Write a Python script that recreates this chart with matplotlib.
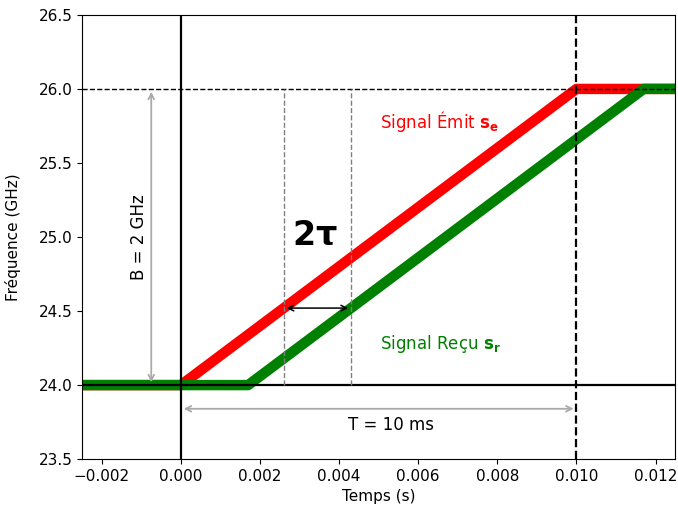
import numpy as np
import matplotlib.pyplot as plt

# chirp parameters
f0 = 24.0      # GHz
B = 2.0        # GHz
T = 0.010      # s
delay = 0.0017 # s
t_mark = 0.0026

t_emit = [-0.0025, 0.0, T, 0.0125]
f_emit = [f0, f0, f0 + B, f0 + B]
t_recu = [-0.0025, delay, T + delay, 0.0125]
f_recu = [f0, f0, f0 + B, f0 + B]

fig = plt.figure(figsize=(6.78, 5.13), dpi=100)
ax = fig.add_axes([0.121, 0.105, 0.875, 0.866])

ax.plot(t_emit, f_emit, color='red', lw=7.5, solid_capstyle='butt')
ax.plot(t_recu, f_recu, color='green', lw=7.5, solid_capstyle='butt')

ax.axhline(f0, color='black', lw=1.6)
ax.axvline(0, color='black', lw=1.6)
ax.axvline(T, color='black', lw=1.6, ls='--')
ax.axhline(f0 + B, color='black', lw=1, ls='--')

# marqueurs du retard
ax.vlines([t_mark, t_mark + delay], f0, f0 + B, colors='gray', lw=1, ls='--')
f_mark = f0 + B * t_mark / T
ax.annotate('', xy=(t_mark, f_mark), xytext=(t_mark + delay, f_mark),
            arrowprops=dict(arrowstyle='<->', color='black', lw=1.1))
ax.text(0.00282, 25.01, r'$\mathbf{2\tau}$', fontsize=24, va='center', ha='left')

# bande B
ax.annotate('', xy=(-0.00075, f0), xytext=(-0.00075, f0 + B),
            arrowprops=dict(arrowstyle='<->', color='#aaaaaa', lw=1.3))
ax.text(-0.00105, 25.0, 'B = 2 GHz', rotation=90, va='center', ha='center', fontsize=12)

# durée T
ax.annotate('', xy=(0.0, 23.84), xytext=(T, 23.84),
            arrowprops=dict(arrowstyle='<->', color='#aaaaaa', lw=1.3))
ax.text(0.0053, 23.73, 'T = 10 ms', va='center', ha='center', fontsize=12)

ax.text(0.00503, 25.78, r'Signal Émit $\mathbf{s_e}$', color='red', fontsize=12, va='center')
ax.text(0.00503, 24.28, r'Signal Reçu $\mathbf{s_r}$', color='green', fontsize=12, va='center')

ax.set_xlim(-0.0025, 0.0125)
ax.set_ylim(23.5, 26.5)
ax.tick_params(labelsize=11)
ax.set_xlabel('Temps (s)', fontsize=11)
ax.set_ylabel('Fréquence (GHz)', fontsize=11)
ax.yaxis.set_label_coords(-0.103, 0.5)

fig.savefig('out.png', dpi=100)
